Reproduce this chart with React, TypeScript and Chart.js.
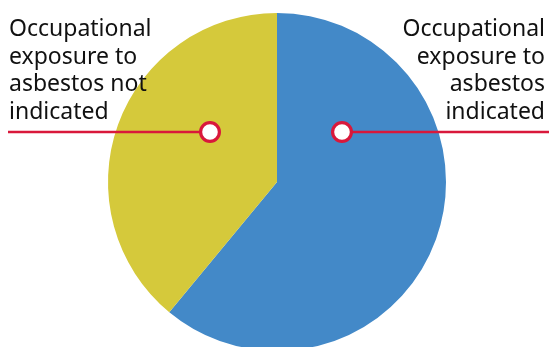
import React, { useEffect, useRef } from "react";
import { Chart, registerables } from "chart.js";

Chart.register(...registerables);

const categories = ["Occupational exposure to asbestos indicated", "Occupational exposure to asbestos not indicated"];
const values = [61, 39];
const colors = ["#4389C8", "#D5C93B"];
const leftLabel = ["Occupational", "exposure to", "asbestos not", "indicated"];
const rightLabel = ["Occupational", "exposure to", "asbestos", "indicated"];

const RED = "#D9183B";
const FONT = "'Noto Sans', 'Open Sans', sans-serif";

const annotationPlugin = {
  id: "annot",
  afterDraw(chart: any) {
    const ctx = chart.ctx;
    const arc = chart.getDatasetMeta(0).data[0];
    if (!arc) return;
    const cx = arc.x;
    const cy = arc.y;
    const ly = cy - 50;
    const lx = cx - 67;
    const rx = cx + 65;
    ctx.save();
    ctx.strokeStyle = RED;
    ctx.lineWidth = 2.5;
    ctx.beginPath();
    ctx.moveTo(8, ly);
    ctx.lineTo(lx, ly);
    ctx.moveTo(rx, ly);
    ctx.lineTo(chart.width, ly);
    ctx.stroke();
    for (const x of [lx, rx]) {
      ctx.beginPath();
      ctx.arc(x, ly, 9.4, 0, Math.PI * 2);
      ctx.fillStyle = "#ffffff";
      ctx.fill();
      ctx.lineWidth = 3.2;
      ctx.strokeStyle = RED;
      ctx.stroke();
    }
    ctx.fillStyle = "#111111";
    ctx.font = `23px ${FONT}`;
    ctx.textBaseline = "alphabetic";
    ctx.textAlign = "left";
    leftLabel.forEach((t, i) => ctx.fillText(t, 9, 36 + i * 27.5));
    ctx.textAlign = "right";
    rightLabel.forEach((t, i) => ctx.fillText(t, 545, 36 + i * 27.5));
    ctx.restore();
  },
};

export default function App() {
  const ref = useRef<HTMLCanvasElement | null>(null);
  useEffect(() => {
    if (!ref.current) return;
    const chart = new Chart(ref.current, {
      type: "pie",
      data: {
        labels: categories,
        datasets: [
          {
            data: values,
            backgroundColor: colors,
            borderWidth: 0,
          },
        ],
      },
      options: {
        responsive: false,
        animation: false,
        layout: { padding: { top: 13, bottom: 13, left: 5, right: 0 } },
        plugins: { legend: { display: false }, tooltip: { enabled: false } },
      },
      plugins: [annotationPlugin],
    });
    return () => chart.destroy();
  }, []);
  return (
    <div style={{ position: "fixed", left: 0, top: 0, width: 549, height: 347, overflow: "hidden", background: "#fff" }}>
      <canvas ref={ref} width={549} height={364} style={{ display: "block", width: 549, height: 364 }} />
    </div>
  );
}
